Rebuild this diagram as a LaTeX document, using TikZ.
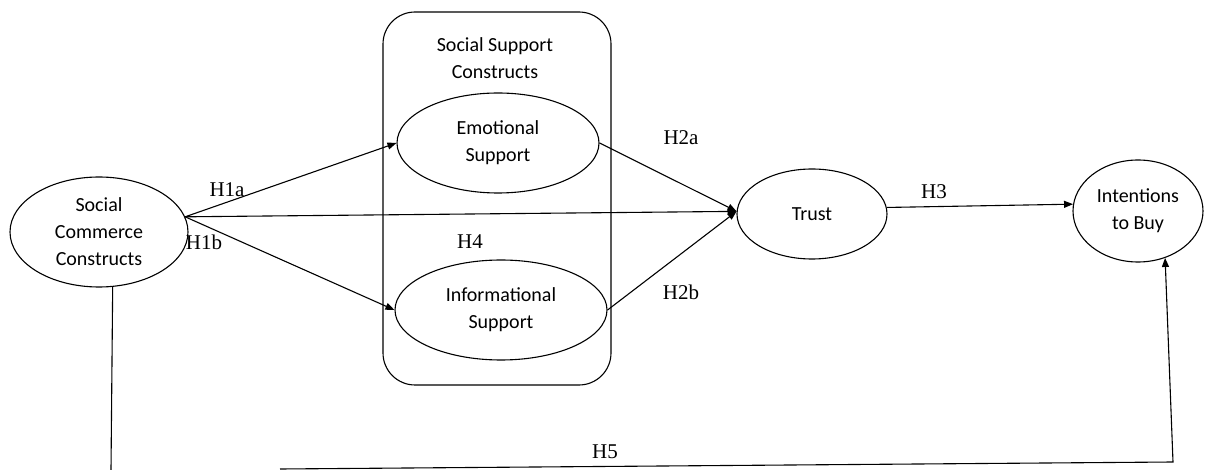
\documentclass[tikz,border=0pt]{standalone}
\usepackage{fontspec}
\setmainfont{Liberation Serif}
\newfontfamily\nodefont{Carlito}
\usetikzlibrary{shapes.geometric,arrows.meta}
\begin{document}
\begin{tikzpicture}[x=1pt,y=-1pt,
  line width=1.1pt,
  construct/.style={draw,ellipse,inner sep=0pt,align=center,
    font={\nodefont\fontsize{20}{27}\selectfont}},
  hyp/.style={font={\fontsize{21}{24}\selectfont},inner sep=0pt},
  arr/.style={-{Triangle[length=9pt,width=7pt]}}]
\useasboundingbox (0,0) rectangle (1227,470);
% container
\node[draw,rounded corners=32pt,minimum width=228pt,minimum height=373pt,inner sep=0pt] (box) at (497,198.5) {};
\node[align=center,font={\nodefont\fontsize{20}{27}\selectfont}] (boxtitle) at (495,58) {Social Support\\Constructs};
% constructs
\node[construct,minimum width=178pt,minimum height=110pt] (sc) at (99,232) {Social\\Commerce\\Constructs};
\node[construct,minimum width=202pt,minimum height=100pt] (emo) at (498,143) {Emotional\\Support};
\node[construct,minimum width=212pt,minimum height=100pt] (inf) at (501,310) {Informational\\Support};
\node[construct,minimum width=150pt,minimum height=90pt] (trust) at (812,214) {Trust};
\node[construct,minimum width=130pt,minimum height=102pt] (int) at (1138,211) {Intentions\\to Buy};
% connectors
\draw[arr] (sc.10) -- (emo.west);
\draw[arr] (sc.10) -- (inf.west);
\draw[arr] (sc.10) -- (trust.178);
\draw[arr] (emo.east) -- (trust.178);
\draw[arr] (inf.east) -- (trust.178);
\draw[arr] (trust.5) -- (int.174);
\coordinate (bl) at (111,470);
\coordinate (hs) at (280,469);
\coordinate (br) at (1173,462);
\draw (sc.-76) -- (bl);
\draw[arr] (hs) -- (br) -- (int.-60);
% labels
\node[hyp] (h1a) at (227,190) {H1a};
\node[hyp] (h1b) at (204,242) {H1b};
\node[hyp] (h2a) at (681,138) {H2a};
\node[hyp] (h2b) at (681,292) {H2b};
\node[hyp] (h3) at (934,192) {H3};
\node[hyp] (h4) at (470,242) {H4};
\node[hyp] (h5) at (605,452) {H5};
\end{tikzpicture}
\end{document}
